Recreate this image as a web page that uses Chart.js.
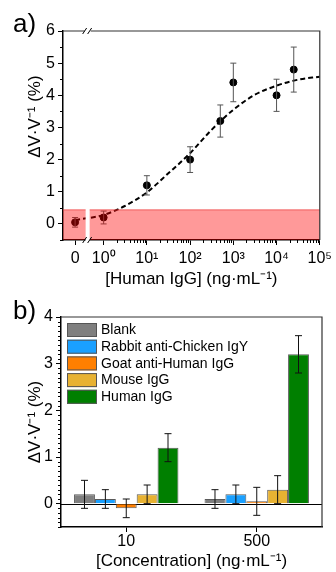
<!DOCTYPE html>
<html>
<head>
<meta charset="utf-8">
<script src="https://cdn.jsdelivr.net/npm/chart.js@4.4.0/dist/chart.umd.min.js"></script>
<style>
  body { margin: 0; background: #fff; width: 336px; height: 572px; overflow: hidden; font-family: "Liberation Sans", Arial, sans-serif; }
  .panel { position: relative; width: 336px; }
  canvas { display: block; }
  .tag { position: absolute; left: 13px; font-size: 26px; color: #000; }
</style>
</head>
<body>
<div class="panel">
  <canvas id="curve" width="336" height="290"></canvas>
  <span class="tag" style="top:8px">a)</span>
</div>
<div class="panel">
  <canvas id="selectivity" width="336" height="282"></canvas>
  <span class="tag" style="top:5px">b)</span>
</div>
<script>
// ---- panel a data (dose response) ----
const concentrations = [0, 1, 10, 100, 500, 1000, 10000, 25000]
const responses = [0.05, 0.2, 1.2, 2.0, 3.2, 4.4, 4.0, 4.8]
const responseErrors = [0.15, 0.2, 0.3, 0.4, 0.5, 0.6, 0.5, 0.7]
const fitConcentrations = [0, 1, 3, 10, 30, 100, 300, 1000, 3000, 10000, 30000, 100000]
const fitResponses = [0.12, 0.28, 0.55, 0.98, 1.55, 2.2, 2.9, 3.55, 4.0, 4.3, 4.48, 4.58]
const xTickValues = [0, 1, 10, 100, 1000, 10000, 100000]
const xTickLabels = ['0', '10⁰', '10¹', '10²', '10³', '10⁴', '10⁵']
const yTicksA = [0, 1, 2, 3, 4, 5, 6]
const limitBand = [-0.5, 0.45]

// ---- panel b data (selectivity) ----
const concLabels = ['10', '500']
const sampleNames = ['Blank', 'Rabbit anti-Chicken IgY', 'Goat anti-Human IgG', 'Mouse IgG', 'Human IgG']
const signal10 = [0.2, 0.1, -0.1, 0.2, 1.2]
const signal500 = [0.1, 0.2, 0.05, 0.3, 3.2]
const error10 = [0.3, 0.2, 0.2, 0.2, 0.3]
const error500 = [0.2, 0.2, 0.3, 0.3, 0.4]
const yTicksB = [0, 1, 2, 3, 4]

const sampleColors = ['#7f7f7f', '#1aa0ff', '#ff7f00', '#e8b232', '#007f00']

// axis break: zero sits left of the log decades
const ZERO_POS = -0.66
const BREAK_POS = -0.37
const X_MIN = -0.94
const X_MAX = 5

function toPos(c) {
  return c === 0 ? ZERO_POS : Math.log10(c)
}

const FONT = "'Liberation Sans', Arial, sans-serif"
const tickFont = { family: FONT, size: 16 }
const titleFont = { family: FONT, size: 17 }

// vertical error bars drawn from each dataset's errors array
const errorBars = {
  id: 'errorBars',
  afterDatasetsDraw(chart) {
    const ctx = chart.ctx
    const y = chart.scales.y
    chart.data.datasets.forEach((ds, di) => {
      if (!ds.errors) return
      const meta = chart.getDatasetMeta(di)
      ctx.save()
      ctx.strokeStyle = ds.errorColor || '#222'
      ctx.lineWidth = 1
      meta.data.forEach((el, i) => {
        const v = ds.data[i]
        const val = typeof v === 'object' ? v.y : v
        const top = y.getPixelForValue(val + ds.errors[i])
        const bot = y.getPixelForValue(val - ds.errors[i])
        const cap = ds.capWidth || 3
        ctx.beginPath()
        ctx.moveTo(el.x, top); ctx.lineTo(el.x, bot)
        ctx.moveTo(el.x - cap, top); ctx.lineTo(el.x + cap, top)
        ctx.moveTo(el.x - cap, bot); ctx.lineTo(el.x + cap, bot)
        ctx.stroke()
      })
      ctx.restore()
    })
  }
}

// minor ticks, frame, break marks, red band for panel a
const decorA = {
  id: 'decorA',
  afterDatasetsDraw(chart) {
    const ctx = chart.ctx
    const { left, right, top, bottom } = chart.chartArea
    const x = chart.scales.x, y = chart.scales.y
    const bx = x.getPixelForValue(BREAK_POS)

    // translucent band over the data
    const bTop = y.getPixelForValue(limitBand[1])
    const bBot = y.getPixelForValue(limitBand[0])
    ctx.save()
    ctx.fillStyle = 'rgba(255,0,0,0.4)'
    ctx.fillRect(left, bTop, right - left, bBot - bTop)
    ctx.strokeStyle = 'rgba(230,60,60,0.6)'
    ctx.lineWidth = 1
    ctx.beginPath(); ctx.moveTo(left, bTop + 0.5); ctx.lineTo(right, bTop + 0.5); ctx.stroke()
    ctx.fillStyle = '#fff'
    ctx.fillRect(bx - 2, bTop - 1, 4, bBot - bTop + 1)

    // frame top/right
    ctx.strokeStyle = '#333'
    ctx.lineWidth = 1.2
    ctx.beginPath()
    ctx.moveTo(left, top); ctx.lineTo(bx - 3, top)
    ctx.moveTo(bx + 3, top); ctx.lineTo(right, top); ctx.lineTo(right, bottom)
    ctx.stroke()

    // break marks
    ctx.strokeStyle = '#000'
    ctx.lineWidth = 1
    ;[top, bottom].forEach(py => {
      ctx.fillStyle = '#fff'
      ctx.fillRect(bx - 2, py - 1.5, 4, 3)
      ctx.beginPath()
      ctx.moveTo(bx - 5, py + 3); ctx.lineTo(bx - 1, py - 3)
      ctx.moveTo(bx + 0, py + 3); ctx.lineTo(bx + 4, py - 3)
      ctx.stroke()
    })

    // minor ticks
    ctx.lineWidth = 1
    ctx.beginPath()
    for (let d = 0; d < 5; d++) {
      for (let k = 2; k <= 9; k++) {
        const px = Math.round(x.getPixelForValue(d + Math.log10(k))) + 0.5
        ctx.moveTo(px, bottom); ctx.lineTo(px, bottom + 3)
      }
    }
    for (let v = -0.5; v < 6; v += 1) {
      const py = Math.round(y.getPixelForValue(v)) + 0.5
      ctx.moveTo(left, py); ctx.lineTo(left - 3, py)
    }
    ctx.stroke()
    ctx.restore()
  }
}

new Chart(document.getElementById('curve'), {
  type: 'line',
  data: {
    datasets: [
      {
        label: 'fit',
        data: fitConcentrations.map((c, i) => ({ x: toPos(c), y: fitResponses[i] })),
        borderColor: '#000',
        borderWidth: 2,
        borderDash: [5, 3],
        pointRadius: 0,
        cubicInterpolationMode: 'monotone',
        fill: false
      },
      {
        label: 'Human IgG',
        data: concentrations.map((c, i) => ({ x: toPos(c), y: responses[i] })),
        showLine: false,
        pointRadius: 3.5,
        pointBackgroundColor: '#000',
        pointBorderColor: '#000',
        errors: responseErrors,
        errorColor: '#555',
        capWidth: 3
      }
    ]
  },
  options: {
    responsive: false,
    animation: false,
    devicePixelRatio: 1,
    layout: { padding: { top: 31, right: 14, left: 0, bottom: 0 } },
    plugins: { legend: { display: false }, tooltip: { enabled: false } },
    scales: {
      x: {
        type: 'linear',
        min: X_MIN,
        max: X_MAX,
        afterBuildTicks: s => { s.ticks = xTickValues.map(c => ({ value: toPos(c) })) },
        afterFit: s => { s.height = 50 },
        ticks: {
          callback: (v, i) => xTickLabels[i],
          font: tickFont, color: '#000', padding: 4, maxRotation: 0, autoSkip: false
        },
        grid: { drawOnChartArea: false, tickLength: 5, tickColor: '#000', tickWidth: 1 },
        border: { color: '#000', width: 1.5 },
        title: { display: true, text: '[Human IgG] (ng·mL⁻¹)', font: titleFont, color: '#000', padding: { top: 4, bottom: 0 } }
      },
      y: {
        min: -0.5,
        max: 6,
        afterBuildTicks: s => { s.ticks = yTicksA.map(v => ({ value: v })) },
        afterFit: s => { s.width = 63 },
        ticks: { font: tickFont, color: '#000', padding: 3 },
        grid: { drawOnChartArea: false, tickLength: 5, tickColor: '#000', tickWidth: 1 },
        border: { color: '#000', width: 1.5 },
        // leading spaces push the rotated title up a bit, like the original
        title: { display: true, text: '        ΔV·V⁻¹ (%)', font: titleFont, color: '#000', padding: { top: 25, bottom: 0 } }
      }
    }
  },
  plugins: [errorBars, decorA]
})

// frame, zero line, minor ticks and legend for panel b
const decorB = {
  id: 'decorB',
  beforeDatasetsDraw(chart) {
    const ctx = chart.ctx
    const { left, right } = chart.chartArea
    const py = Math.round(chart.scales.y.getPixelForValue(0)) + 0.5
    ctx.save()
    ctx.strokeStyle = '#000'
    ctx.lineWidth = 1
    ctx.beginPath(); ctx.moveTo(left, py); ctx.lineTo(right, py); ctx.stroke()
    ctx.restore()
  },
  afterDatasetsDraw(chart) {
    const ctx = chart.ctx
    const { left, right, top, bottom } = chart.chartArea
    const y = chart.scales.y
    ctx.save()
    ctx.strokeStyle = '#333'
    ctx.lineWidth = 1.2
    ctx.beginPath()
    ctx.moveTo(left, top); ctx.lineTo(right, top); ctx.lineTo(right, bottom)
    ctx.stroke()

    ctx.strokeStyle = '#000'
    ctx.lineWidth = 1
    ctx.beginPath()
    for (let i = -5; i <= 40; i++) {
      if (i % 10 === 0) continue
      const py = Math.round(y.getPixelForValue(i / 10)) + 0.5
      ctx.moveTo(left, py); ctx.lineTo(left - 3, py)
    }
    ctx.stroke()

    // legend box in the top-left corner
    const lx = left + 6, ly = top + 6, pitch = 16.7
    ctx.font = "14px " + FONT
    ctx.textBaseline = 'middle'
    chart.data.datasets.forEach((ds, i) => {
      const cy = ly + i * pitch + 7
      ctx.fillStyle = ds.backgroundColor
      ctx.fillRect(lx, cy - 7, 30, 14)
      ctx.strokeStyle = '#555'
      ctx.strokeRect(lx + 0.5, cy - 6.5, 29, 13)
      ctx.fillStyle = '#000'
      ctx.fillText(ds.label, lx + 34, cy + 0.5)
    })
    ctx.restore()
  }
}

new Chart(document.getElementById('selectivity'), {
  type: 'bar',
  data: {
    labels: concLabels,
    datasets: sampleNames.map((name, i) => ({
      label: name,
      data: [signal10[i], signal500[i]],
      errors: [error10[i], error500[i]],
      errorColor: '#111',
      capWidth: 3.5,
      backgroundColor: sampleColors[i],
      borderColor: '#5a5a5a',
      borderWidth: 1,
      categoryPercentage: 0.8,
      barPercentage: 1
    }))
  },
  options: {
    responsive: false,
    animation: false,
    devicePixelRatio: 1,
    layout: { padding: { top: 27, right: 14, left: 0, bottom: 0 } },
    plugins: { legend: { display: false }, tooltip: { enabled: false } },
    scales: {
      x: {
        afterFit: s => { s.height = 45 },
        ticks: { font: tickFont, color: '#000', padding: 0 },
        grid: { offset: false, drawOnChartArea: false, tickLength: 5, tickColor: '#000' },
        border: { color: '#000', width: 1.5 },
        title: { display: true, text: '[Concentration] (ng·mL⁻¹)', font: titleFont, color: '#000', padding: { top: 3, bottom: 0 } }
      },
      y: {
        min: -0.5,
        max: 4,
        afterBuildTicks: s => { s.ticks = yTicksB.map(v => ({ value: v })) },
        afterFit: s => { s.width = 61 },
        ticks: { font: tickFont, color: '#000', padding: 3 },
        grid: { drawOnChartArea: false, tickLength: 5, tickColor: '#000' },
        border: { color: '#000', width: 1.5 },
        title: { display: true, text: 'ΔV·V⁻¹ (%)', font: titleFont, color: '#000', padding: { top: 25, bottom: 0 } }
      }
    }
  },
  plugins: [decorB, errorBars]
})
</script>
</body>
</html>
